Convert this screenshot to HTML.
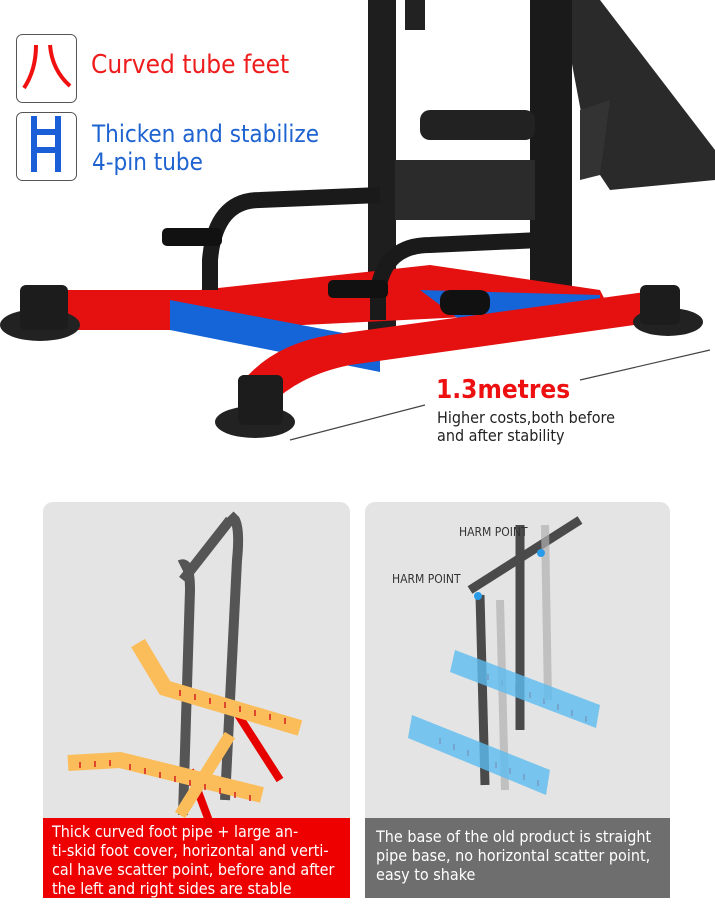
<!DOCTYPE html>
<html><head><meta charset="utf-8"><style>
body{margin:0;width:715px;height:921px;background:#fff;overflow:hidden;position:relative;font-family:"Liberation Sans",sans-serif}
.t{position:absolute;white-space:nowrap;font-family:"DejaVu Sans Condensed","Liberation Sans",sans-serif}
</style></head><body>
<svg width="715" height="921" style="position:absolute;left:0;top:0">
<polygon points="560,0 600,0 715,150 715,180 610,190 590,160" fill="#2a2a2a"/>
<polygon points="580,110 610,100 600,175 580,180" fill="#333"/>
<rect x="368" y="0" width="28" height="330" fill="#1e1e1e"/>
<rect x="530" y="0" width="42" height="330" fill="#1a1a1a"/>
<rect x="405" y="0" width="20" height="30" fill="#222"/>
<rect x="420" y="110" width="115" height="30" rx="10" fill="#222"/>
<rect x="395" y="160" width="140" height="60" fill="#2b2b2b"/>
<polygon points="60,290 200,290 430,265 600,290 610,310 200,330 100,330 60,330" fill="#e51010"/>
<polygon points="170,300 380,340 380,372 170,330" fill="#1565d8"/>
<polygon points="420,290 600,295 600,310 460,320" fill="#1565d8"/>
<path d="M240,385 Q270,345 330,335 L660,290 L670,320 L350,365 Q300,375 270,405 Z" fill="#e51010"/>
<path d="M210,290 L210,260 Q215,200 260,200 L380,195" stroke="#1a1a1a" stroke-width="16" fill="none"/>
<rect x="162" y="228" width="60" height="18" rx="5" fill="#111"/>
<path d="M378,320 L378,290 Q385,245 430,245 L540,240" stroke="#1a1a1a" stroke-width="16" fill="none"/>
<rect x="328" y="280" width="60" height="18" rx="5" fill="#111"/>
<rect x="440" y="290" width="50" height="25" rx="10" fill="#111"/>
<ellipse cx="40" cy="325" rx="40" ry="16" fill="#222"/><rect x="20" y="285" width="48" height="45" rx="6" fill="#1c1c1c"/>
<ellipse cx="255" cy="422" rx="40" ry="16" fill="#222"/><rect x="238" y="375" width="45" height="50" rx="6" fill="#1c1c1c"/>
<ellipse cx="668" cy="322" rx="35" ry="14" fill="#222"/><rect x="640" y="285" width="40" height="40" rx="6" fill="#1c1c1c"/>
<line x1="580" y1="380" x2="710" y2="350" stroke="#444" stroke-width="1.2"/>
<line x1="290" y1="440" x2="425" y2="405" stroke="#444" stroke-width="1.2"/>
<rect x="16.5" y="34.5" width="60" height="68" rx="6" fill="#fff" stroke="#555"/>
<path d="M36,45 Q36,70 24,88 M50,45 Q52,70 70,86" stroke="#f01010" stroke-width="4" fill="none"/>
<rect x="16.5" y="112.5" width="60" height="68" rx="6" fill="#fff" stroke="#555"/>
<path d="M34,116 V172 M58,116 V172 M34,132 H58 M34,150 H58" stroke="#1a5fd8" stroke-width="6" fill="none"/>
<rect x="43" y="502" width="307" height="396" rx="10" fill="#e4e4e4"/>
<rect x="43" y="818" width="307" height="80" fill="#ee0000"/>
<rect x="365" y="502" width="305" height="396" rx="10" fill="#e4e4e4"/>
<rect x="365" y="818" width="305" height="80" fill="#6e6e6e"/>
<path d="M183,815 L190,590 Q190,560 180,565 M230,515 L235,520 Q240,530 237,560 L225,800 M183,580 L230,520" stroke="#555" stroke-width="10" fill="none"/>
<path d="M235,710 L280,780 M190,770 L218,845" stroke="#e60000" stroke-width="8"/>
<path d="M138,643 L165,688 L300,728" stroke="#fbbd5a" stroke-width="16" fill="none"/>
<path d="M68,763 L120,760 L262,795" stroke="#fbbd5a" stroke-width="16" fill="none"/>
<path d="M230,735 L180,815" stroke="#fbbd5a" stroke-width="12"/>
<g stroke="#d42020" stroke-width="1.5" fill="none">
<path d="M180,690 v6 M195,694 v6 M210,698 v6 M225,702 v6 M240,706 v6 M255,710 v6 M270,714 v6 M285,718 v6"/>
<path d="M80,762 v6 M95,761 v6 M110,760 v6 M130,764 v6 M145,768 v6 M160,772 v6 M175,776 v6 M190,780 v6 M205,784 v6 M220,788 v6 M235,792 v6 M250,795 v6"/>
<path d="M440,738 v6 M454,744 v6 M468,750 v6 M482,756 v6 M496,762 v6 M510,768 v6 M524,774 v6 M538,780 v6"/>
<path d="M488,674 v6 M502,680 v6 M516,686 v6 M530,692 v6 M544,698 v6 M558,704 v6 M572,710 v6 M586,716 v6"/>
</g>
<path d="M520,525 L520,730 M480,595 L485,785 M470,590 L580,520" stroke="#4a4a4a" stroke-width="9" fill="none"/>
<path d="M545,525 L548,700 M500,600 L505,790" stroke="#b0b0b0" stroke-width="8" fill="none" opacity=".7"/>
<polygon points="455,650 600,705 596,728 450,672" fill="#5bbbf0" opacity=".8"/>
<polygon points="412,715 550,770 546,795 408,738" fill="#5bbbf0" opacity=".8"/>
<circle cx="541" cy="553" r="4" fill="#2a9be8"/><circle cx="478" cy="596" r="4" fill="#2a9be8"/>
</svg>
<div class="t" style="left:91px;top:50px;font-size:26px;color:#ee1c1c">Curved tube feet</div>
<div class="t" style="left:92px;top:120px;font-size:24px;color:#1e63d0;line-height:28px">Thicken and stabilize<br>4-pin tube</div>
<div class="t" style="left:436px;top:375px;font-size:26px;font-weight:bold;color:#ee1010">1.3metres</div>
<div class="t" style="left:437px;top:409px;font-size:16px;color:#222;line-height:18px">Higher costs,both before<br>and after stability</div>
<div class="t" style="left:459px;top:525px;font-size:12px;color:#333">HARM POINT</div>
<div class="t" style="left:392px;top:572px;font-size:12px;color:#333">HARM POINT</div>
<div class="t" style="left:52px;top:822px;font-size:16px;color:#fff;line-height:19px">Thick curved foot pipe + large an-<br>ti-skid foot cover, horizontal and verti-<br>cal have scatter point, before and after<br>the left and right sides are stable</div>
<div class="t" style="left:376px;top:827px;font-size:16px;color:#fff;line-height:19px">The base of the old product is straight<br>pipe base, no horizontal scatter point,<br>easy to shake</div>
</body></html>
